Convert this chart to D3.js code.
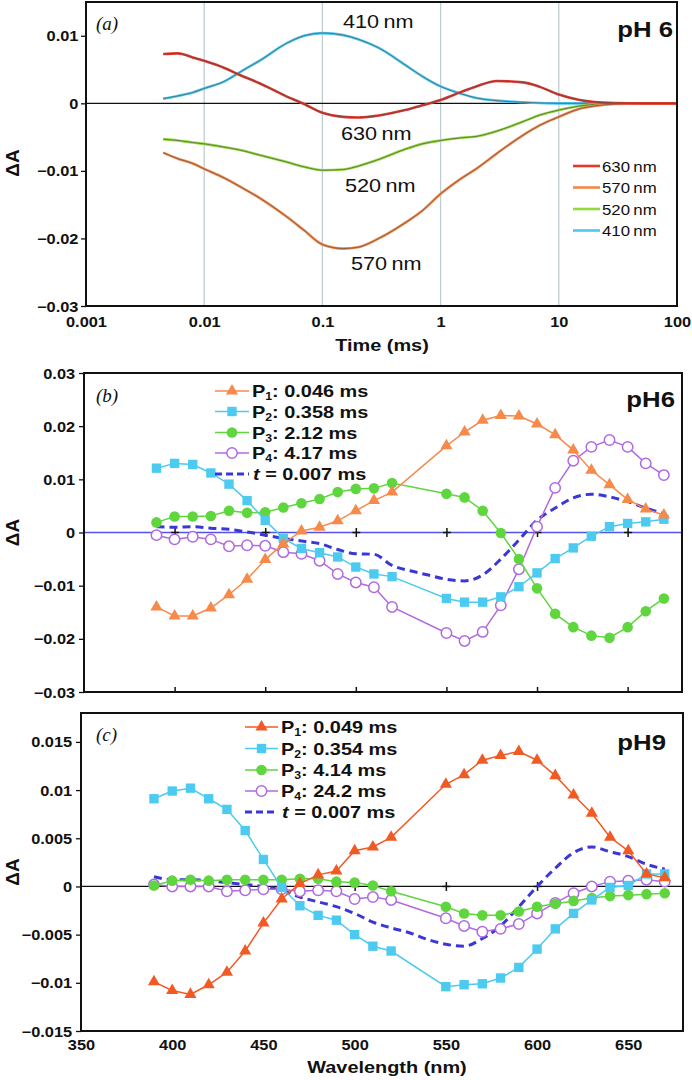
<!DOCTYPE html>
<html><head><meta charset="utf-8">
<script src="https://cdn.jsdelivr.net/npm/d3@7"></script>
<style>body{margin:0;background:#fff}svg{display:block}</style>
</head><body><svg id="chart" width="692" height="1080"></svg>
<script>
// ---------------- data: panel (a) kinetics, pH 6 ----------------
const times = [0.0045, 0.006, 0.008, 0.01, 0.015, 0.02, 0.03, 0.05, 0.07, 0.1, 0.15, 0.2, 0.3, 0.5, 0.7, 1, 1.5, 2, 3, 5, 7, 10, 15, 20, 30, 50, 100];
const a630 = [0.0073, 0.0074, 0.0068, 0.0063, 0.0052, 0.0042, 0.0029, 0.001, -0.0001, -0.0014, -0.002, -0.0021, -0.0018, -0.001, -0.0003, 0.0005, 0.0017, 0.0025, 0.0033, 0.0031, 0.0024, 0.0013, 0.0005, 0.0002, 0.00005, 0, 0];
const a570 = [-0.0073, -0.0082, -0.0089, -0.0097, -0.0111, -0.0123, -0.0141, -0.0168, -0.0188, -0.0209, -0.0215, -0.0213, -0.02, -0.0177, -0.0159, -0.0134, -0.0111, -0.0097, -0.0074, -0.0047, -0.0032, -0.002, -0.0008, -0.0004, -0.0001, 0, 0];
const a520 = [-0.0053, -0.0055, -0.0058, -0.006, -0.0065, -0.0069, -0.0077, -0.0087, -0.0094, -0.0099, -0.0098, -0.0093, -0.0083, -0.0068, -0.006, -0.0055, -0.0051, -0.0049, -0.0041, -0.0027, -0.0017, -0.001, -0.0004, -0.00015, 0, 0, 0];
const a410 = [0.0007, 0.0011, 0.0016, 0.0022, 0.0033, 0.0046, 0.0064, 0.0089, 0.01, 0.0104, 0.0101, 0.0095, 0.0082, 0.0057, 0.004, 0.0025, 0.0014, 0.0008, 0.0004, 0.00015, 0.00005, 0, 0, 0, 0, 0, 0];
const seriesNamesA = ['630 nm', '570 nm', '520 nm', '410 nm'];
const xTicksA = [0.001, 0.01, 0.1, 1, 10, 100];
const xLabelsA = ['0.001', '0.01', '0.1', '1', '10', '100'];
const yTicksA = [-0.03, -0.02, -0.01, 0, 0.01];
const yLabelsA = ['\u22120.03', '\u22120.02', '\u22120.01', '0', '0.01'];

// ---------------- data: panels (b), (c) spectra ----------------
const wlMarkers = [390, 400, 410, 420, 430, 440, 450, 460, 470, 480, 490, 500, 510, 520, 550, 560, 570, 580, 590, 600, 610, 620, 630, 640, 650, 660, 670];
const wlDash = [390, 400, 410, 420, 430, 440, 450, 460, 470, 480, 490, 500, 510, 520, 530, 540, 550, 560, 570, 580, 590, 600, 610, 620, 630, 640, 650, 660, 670];

const bP1 = [-0.014, -0.0157, -0.0157, -0.0142, -0.0117, -0.0088, -0.0051, -0.0021, 0.0003, 0.001, 0.0022, 0.0041, 0.006, 0.0076, 0.0163, 0.0189, 0.0211, 0.022, 0.0219, 0.0204, 0.0184, 0.0155, 0.0117, 0.009, 0.0062, 0.0044, 0.0033];
const bP2 = [0.0121, 0.013, 0.0128, 0.0112, 0.0091, 0.006, 0.0023, -0.0011, -0.003, -0.0038, -0.0046, -0.0065, -0.0078, -0.0083, -0.0124, -0.0131, -0.0131, -0.0121, -0.0102, -0.0076, -0.0049, -0.0029, -0.0007, 0.0011, 0.0017, 0.002, 0.0025];
const bP3 = [0.0019, 0.003, 0.003, 0.0031, 0.0041, 0.0037, 0.0038, 0.0047, 0.0055, 0.0063, 0.0076, 0.0082, 0.0083, 0.0093, 0.0073, 0.0066, 0.0041, -0.0001, -0.005, -0.0105, -0.0153, -0.0178, -0.0194, -0.0198, -0.0178, -0.0148, -0.0124];
const bP4 = [-0.0005, -0.0013, -0.0008, -0.0013, -0.0026, -0.0024, -0.0025, -0.0037, -0.004, -0.0053, -0.0078, -0.0094, -0.0103, -0.014, -0.0189, -0.0204, -0.0187, -0.0137, -0.0069, 0.0011, 0.0084, 0.0135, 0.0161, 0.0174, 0.0161, 0.013, 0.0108];
const bDash = [0.0011, 0.001, 0.0011, 0.0008, 0.0006, 0.0001, -0.0005, -0.0011, -0.0016, -0.0021, -0.0032, -0.004, -0.0041, -0.0062, -0.0072, -0.008, -0.0088, -0.0091, -0.008, -0.005, -0.0014, 0.0023, 0.0046, 0.0065, 0.0072, 0.0067, 0.0058, 0.0046, 0.0035];
const lifetimesB = ['0.046 ms', '0.358 ms', '2.12 ms', '4.17 ms'];

const cP1 = [-0.0099, -0.0108, -0.0112, -0.0102, -0.0089, -0.0067, -0.0038, -0.0013, 0.0003, 0.0012, 0.0016, 0.0037, 0.0041, 0.0051, 0.0106, 0.0116, 0.0131, 0.0136, 0.014, 0.0131, 0.0115, 0.0095, 0.0076, 0.0051, 0.0037, 0.0013, 0.0009];
const cP2 = [0.0091, 0.0099, 0.0102, 0.0091, 0.008, 0.0058, 0.0028, -0.0001, -0.002, -0.003, -0.0035, -0.005, -0.0062, -0.0067, -0.0104, -0.0102, -0.0101, -0.0095, -0.0084, -0.0065, -0.0044, -0.0028, -0.0014, -0.0001, 0.0001, 0.0013, 0.0013];
const cP3 = [0.0001, 0.0006, 0.0007, 0.0006, 0.0007, 0.0007, 0.0007, 0.0007, 0.0008, 0.0008, 0.0005, 0.0004, 0.0001, -0.0005, -0.0021, -0.0028, -0.003, -0.003, -0.0026, -0.0021, -0.0018, -0.0015, -0.0012, -0.001, -0.0009, -0.0008, -0.0007];
const cP4 = [0.0002, 0, 0, 0, -0.0005, -0.0004, -0.0003, -0.0003, -0.0005, -0.0004, -0.0005, -0.0013, -0.0011, -0.0014, -0.0033, -0.0041, -0.0047, -0.0044, -0.0039, -0.0028, -0.0017, -0.0007, 0, 0.0005, 0.0006, 0.0007, 0.0005];
const cDash = [0.001, 0.0007, 0.0007, 0.0006, 0.0004, 0.0002, 0, -0.0004, -0.0011, -0.0016, -0.0021, -0.0028, -0.0037, -0.0043, -0.0048, -0.0055, -0.006, -0.0062, -0.0054, -0.0041, -0.0021, 0, 0.0019, 0.0035, 0.0041, 0.0036, 0.0031, 0.0023, 0.0018];
const lifetimesC = ['0.049 ms', '0.354 ms', '4.14 ms', '24.2 ms'];

const componentNames = ['1', '2', '3', '4'];
const dashLabel = ' = 0.007 ms';
const crossTicks = [400, 450, 500, 550, 600, 650];
const xTicksC = [350, 400, 450, 500, 550, 600, 650];
const xLabelsC = ['350', '400', '450', '500', '550', '600', '650'];
const yTicksB = [-0.03, -0.02, -0.01, 0, 0.01, 0.02, 0.03];
const yLabelsB = ['\u22120.03', '\u22120.02', '\u22120.01', '0', '0.01', '0.02', '0.03'];
const yTicksC = [-0.015, -0.01, -0.005, 0, 0.005, 0.01, 0.015];
const yLabelsC = ['\u22120.015', '\u22120.01', '\u22120.005', '0', '0.005', '0.01', '0.015'];

// ---------------- drawing ----------------
const svg = d3.select('#chart');
const SX = 1.17;
const FONT = "'Liberation Sans', Arial, Helvetica, sans-serif";
const SERIF = "'Liberation Serif', 'Times New Roman', serif";

function label(g, x, y, str, o = {}) {
  const t = g.append('text')
    .attr('transform', `translate(${x},${y}) ${o.rotate ? 'rotate(' + o.rotate + ')' : ''} scale(${o.sx ?? SX},1)`)
    .attr('font-family', o.family || FONT)
    .attr('font-size', o.size || 14)
    .attr('font-weight', o.weight || 'bold')
    .attr('text-anchor', o.anchor || 'start')
    .attr('fill', o.fill || '#111');
  if (o.italic) t.attr('font-style', 'italic');
  t.text(str);
  return t;
}

function styleAxisText(ax, x, dy, size, weight) {
  ax.selectAll('text')
    .attr('font-family', FONT).attr('font-size', size).attr('font-weight', weight)
    .attr('fill', '#111').attr('x', x).attr('dy', dy)
    .attr('transform', `scale(${SX},1)`);
}

// ---- Panel (a)
(function () {
  const L = 86, R = 677, T = 2, B = 306;
  const g = svg.append('g');
  const x = d3.scaleLog().domain([0.001, 100]).range([L, R]);
  const y = d3.scaleLinear().domain([-0.03, 0.015]).range([B, T]);

  g.selectAll('line.grid').data(xTicksA.slice(1, -1)).join('line')
    .attr('x1', d => x(d)).attr('x2', d => x(d)).attr('y1', T).attr('y2', B)
    .attr('stroke', '#bfcdd2').attr('stroke-width', 1.3);
  g.append('line').attr('x1', L).attr('x2', R).attr('y1', y(0)).attr('y2', y(0))
    .attr('stroke', '#111').attr('stroke-width', 1.2);

  const colorsA = { '630 nm': '#e2382d', '570 nm': '#f3884c', '520 nm': '#93d83e', '410 nm': '#4cc8f0' };
  const valsA = { '630 nm': a630, '570 nm': a570, '520 nm': a520, '410 nm': a410 };
  const line = d3.line().x((d, i) => x(times[i])).y(d => y(d)).curve(d3.curveMonotoneX);
  ['410 nm', '520 nm', '570 nm', '630 nm'].forEach(n => {
    g.append('path').datum(valsA[n]).attr('d', line).attr('fill', 'none')
      .attr('stroke', colorsA[n]).attr('stroke-width', 2.6);
    g.append('path').datum(valsA[n]).attr('d', line).attr('fill', 'none')
      .attr('stroke', '#4a4a4a').attr('stroke-width', 0.9).attr('opacity', 0.7);
  });

  const ay = g.append('g').attr('transform', `translate(${L},0)`)
    .call(d3.axisLeft(y).tickValues(yTicksA).tickSize(5).tickFormat((d, i) => yLabelsA[i]));
  ay.select('.domain').remove();
  ay.selectAll('.tick line').attr('stroke', '#111').attr('stroke-width', 1.3);
  styleAxisText(ay, -6.5, '0.36em', 14, 'bold');

  const ax = g.append('g').attr('transform', `translate(0,${B})`)
    .call(d3.axisBottom(x).tickValues(xTicksA).tickSize(0).tickFormat((d, i) => xLabelsA[i]));
  ax.select('.domain').remove();
  ax.selectAll('text').attr('y', 21);
  styleAxisText(ax, 0, 0, 14, 'bold');

  g.append('rect').attr('x', L).attr('y', T).attr('width', R - L).attr('height', B - T)
    .attr('fill', 'none').attr('stroke', '#111').attr('stroke-width', 2);

  label(g, 382, 351, 'Time (ms)', { size: 17, anchor: 'middle' });
  label(g, 19, 163, '\u0394A', { size: 19, anchor: 'middle', rotate: -90, sx: 1 });
  label(g, 96, 30, '(a)', { family: SERIF, italic: true, weight: 'normal', size: 19, sx: 1 });
  label(g, 673, 37, 'pH 6', { size: 22, anchor: 'end' });

  label(g, 343, 28, '410\u2009nm', { size: 19, weight: 'normal', sx: 1.14 });
  label(g, 341, 140, '630\u2009nm', { size: 19, weight: 'normal', sx: 1.14 });
  label(g, 345, 192, '520\u2009nm', { size: 19, weight: 'normal', sx: 1.14 });
  label(g, 351, 270, '570\u2009nm', { size: 19, weight: 'normal', sx: 1.14 });

  const legY = [166, 187.5, 209, 230.5];
  seriesNamesA.forEach((n, i) => {
    g.append('line').attr('x1', 573).attr('x2', 600).attr('y1', legY[i]).attr('y2', legY[i])
      .attr('stroke', colorsA[n]).attr('stroke-width', 2.6);
    label(g, 602, legY[i] + 5.5, n.replace(' ', '\u2009'), { size: 15, weight: 'normal', sx: 1.12 });
  });
})();

// ---- Panels (b), (c)
function marker(g, type, cx, cy, color) {
  if (type === 'tri') {
    g.append('path').attr('d', d3.symbol(d3.symbolTriangle, 64)())
      .attr('transform', `translate(${cx},${cy})`).attr('fill', color);
  } else if (type === 'sq') {
    g.append('path').attr('d', d3.symbol(d3.symbolSquare, 88)())
      .attr('transform', `translate(${cx},${cy})`).attr('fill', color);
  } else if (type === 'dot') {
    g.append('circle').attr('cx', cx).attr('cy', cy).attr('r', 5.3).attr('fill', color);
  } else {
    g.append('circle').attr('cx', cx).attr('cy', cy).attr('r', 5.2)
      .attr('fill', '#fff').attr('stroke', color).attr('stroke-width', 1.5);
  }
}

function spectrum(o) {
  const g = svg.append('g');
  const x = d3.scaleLinear().domain([350, 680]).range([o.L, o.R]);
  const y = d3.scaleLinear().domain(o.yDomain).range([o.B, o.T]);
  const y0 = y(0);

  g.append('line').attr('x1', o.L).attr('x2', o.R).attr('y1', y0).attr('y2', y0)
    .attr('stroke', o.zeroColor).attr('stroke-width', o.zeroWidth);
  const zx = g.append('g').attr('transform', `translate(0,${y0})`)
    .call(d3.axisBottom(x).tickValues(crossTicks).tickSize(4.5).tickFormat(''));
  zx.select('.domain').remove();
  zx.selectAll('.tick line').attr('y1', -4.5).attr('stroke', '#111').attr('stroke-width', 1.5);
  zx.selectAll('.tick').append('line').attr('x1', -4).attr('x2', 4)
    .attr('stroke', '#111').attr('stroke-width', 1.5);

  const pts = vals => d3.zip(wlMarkers, vals);
  const lin = d3.line().x(d => x(d[0])).y(d => y(d[1]));

  g.append('path').datum(d3.zip(wlDash, o.dash))
    .attr('d', d3.line().x(d => x(d[0])).y(d => y(d[1])).curve(d3.curveMonotoneX))
    .attr('fill', 'none').attr('stroke', '#3b36d6').attr('stroke-width', 3)
    .attr('stroke-dasharray', '8,5');

  [3, 2, 1, 0].forEach(k => {
    const s = o.series[k];
    g.append('path').datum(pts(s.vals)).attr('d', lin).attr('fill', 'none')
      .attr('stroke', s.color).attr('stroke-width', 1.5);
    pts(s.vals).forEach(p => marker(g, s.marker, x(p[0]), y(p[1]), s.color));
  });

  const ay = g.append('g').attr('transform', `translate(${o.L},0)`)
    .call(d3.axisLeft(y).tickValues(o.yTicks).tickSize(5).tickFormat((d, i) => o.yLabels[i]));
  ay.select('.domain').remove();
  ay.selectAll('.tick line').attr('stroke', '#111').attr('stroke-width', 1.3);
  styleAxisText(ay, -7.6, '0.36em', 14, 'bold');

  const ax = g.append('g').attr('transform', `translate(0,${o.B})`)
    .call(d3.axisBottom(x).tickValues(o.showX ? xTicksC : crossTicks)
      .tickSize(o.showX ? 0 : -5).tickFormat((d, i) => o.showX ? xLabelsC[i] : ''));
  ax.select('.domain').remove();
  ax.selectAll('.tick line').attr('stroke', '#111').attr('stroke-width', 1.5);
  if (o.showX) {
    ax.selectAll('text').attr('y', 19);
    styleAxisText(ax, 0, 0, 14, 'bold');
  }

  g.append('rect').attr('x', o.L).attr('y', o.T).attr('width', o.R - o.L).attr('height', o.B - o.T)
    .attr('fill', 'none').attr('stroke', '#111').attr('stroke-width', 2);

  // legend
  o.legY.forEach((ly, i) => {
    const mid = (o.lx1 + o.lx2) / 2;
    if (i < 4) {
      const s = o.series[i];
      g.append('line').attr('x1', o.lx1).attr('x2', o.lx2).attr('y1', ly).attr('y2', ly)
        .attr('stroke', s.color).attr('stroke-width', 1.5);
      marker(g, s.marker, mid, ly, s.color);
      const t = label(g, o.lx2 + 3, ly + 6, '', { size: 17 });
      t.append('tspan').text('P');
      t.append('tspan').attr('font-size', 10.5).attr('dy', 3).text(componentNames[i]);
      t.append('tspan').attr('dy', -3).text(': ' + o.lifetimes[i]);
    } else {
      g.append('line').attr('x1', o.lx1).attr('x2', o.lx2).attr('y1', ly).attr('y2', ly)
        .attr('stroke', '#3b36d6').attr('stroke-width', 3).attr('stroke-dasharray', '7,4');
      const t = label(g, o.lx2 + 4, ly + 6, '', { size: 17 });
      t.append('tspan').attr('font-style', 'italic').text('t');
      t.append('tspan').text(dashLabel);
    }
  });

  label(g, 19, (o.T + o.B) / 2, '\u0394A', { size: 19, anchor: 'middle', rotate: -90, sx: 1 });
  label(g, 96, o.letterY, o.letter, { family: SERIF, italic: true, weight: 'normal', size: 19, sx: 1 });
  label(g, o.phX, o.phY, o.ph, { size: 22, anchor: 'end' });
  return g;
}

spectrum({
  L: 84, R: 682, T: 373, B: 692, yDomain: [-0.03, 0.03], yTicks: yTicksB, yLabels: yLabelsB,
  zeroColor: '#5552e6', zeroWidth: 1.6, showX: false,
  series: [
    { vals: bP1, color: '#f68a4a', marker: 'tri' },
    { vals: bP2, color: '#4ccaf0', marker: 'sq' },
    { vals: bP3, color: '#5fd63e', marker: 'dot' },
    { vals: bP4, color: '#b06ae0', marker: 'ring' }
  ],
  dash: bDash, lifetimes: lifetimesB,
  lx1: 215, lx2: 249, legY: [391, 411.5, 432.5, 453, 474],
  letter: '(b)', letterY: 402, ph: 'pH6', phX: 675, phY: 407
});

const gC = spectrum({
  L: 81, R: 683, T: 713, B: 1031, yDomain: [-0.015, 0.018], yTicks: yTicksC, yLabels: yLabelsC,
  zeroColor: '#111', zeroWidth: 1.3, showX: true,
  series: [
    { vals: cP1, color: '#f15a24', marker: 'tri' },
    { vals: cP2, color: '#4ccaf0', marker: 'sq' },
    { vals: cP3, color: '#5fd63e', marker: 'dot' },
    { vals: cP4, color: '#b06ae0', marker: 'ring' }
  ],
  dash: cDash, lifetimes: lifetimesC,
  lx1: 245, lx2: 278, legY: [727, 748.5, 770, 791, 812],
  letter: '(c)', letterY: 741, ph: 'pH9', phX: 666, phY: 750
});
label(gC, 387, 1073, 'Wavelength (nm)', { size: 17, anchor: 'middle' });
</script></body></html>
